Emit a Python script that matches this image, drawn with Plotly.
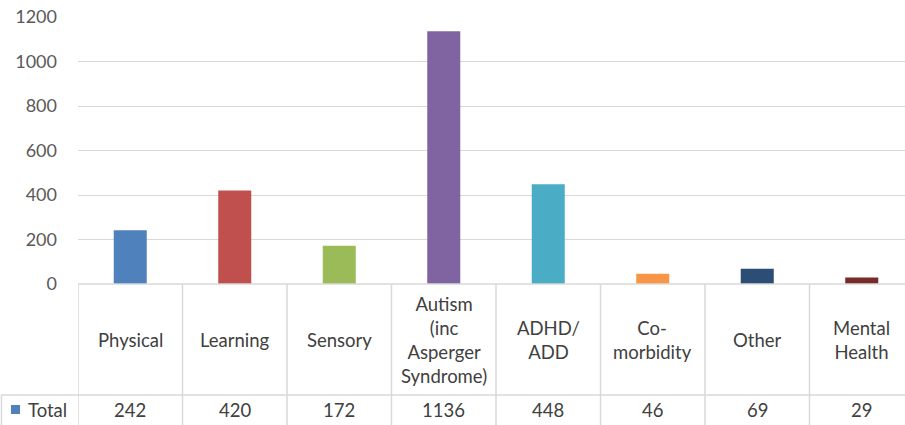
import plotly.graph_objects as go

categories = ["Physical", "Learning", "Sensory", "Autism (inc Asperger Syndrome)",
              "ADHD/ ADD", "Co-morbidity", "Other", "Mental Health"]
header_labels = ["Physical", "Learning", "Sensory", "Autism<br>(inc<br>Asperger<br>Syndrome)",
                 "ADHD/<br>ADD", "Co-<br>morbidity", "Other", "Mental<br>Health"]
values = [242, 420, 172, 1136, 448, 46, 69, 29]
colors = ["#4F81BD", "#C0504D", "#9BBB59", "#8064A2", "#4BACC6", "#F79646", "#2C4D75", "#772C2A"]
series_name = "Total"
y_ticks = [0, 200, 400, 600, 800, 1000, 1200]

W, H = 905, 425
ml, mt, mb = 78, 17, 141
pw = W - ml
ph = H - mt - mb
cat_w = 104.5
xr = [-0.5, -0.5 + pw / cat_w]

FONT = "Lato"
TS = 18.5
fig = go.Figure()
fig.add_trace(go.Bar(x=list(range(len(values))), y=values, marker=dict(color=colors, line=dict(width=0)),
                     width=0.316, name=series_name, showlegend=False, hoverinfo="y"))

grid = "#D9D9D9"
fig.update_layout(
    width=W, height=H, margin=dict(l=ml, r=0, t=mt, b=mb),
    paper_bgcolor="white", plot_bgcolor="white",
    xaxis=dict(range=xr, showticklabels=False, showgrid=False, zeroline=False, showline=False, fixedrange=True),
    yaxis=dict(range=[0, 1200], tickvals=y_ticks, showgrid=True, gridcolor=grid, gridwidth=1.3,
               zeroline=False, showline=False, ticks="", ticklabelstandoff=20, fixedrange=True,
               tickfont=dict(family=FONT, size=18, color="#595959")),
    font=dict(family=FONT, color="#404040"),
)

def py(pix):
    return (H - mb - pix) / ph

def px(pix):
    return (pix - ml) / pw

row_split = 395
shapes = []
shapes.append(dict(type="line", xref="paper", yref="paper", x0=0, x1=1, y0=0, y1=0,
                   line=dict(color=grid, width=1.5)))
shapes.append(dict(type="line", xref="paper", yref="paper", x0=px(1), x1=1, y0=py(row_split), y1=py(row_split),
                   line=dict(color=grid, width=1.5)))
for i in range(len(values) + 1):
    shapes.append(dict(type="line", xref="x", yref="paper", x0=i - 0.5, x1=i - 0.5, y0=0, y1=py(H + 2),
                       line=dict(color=grid, width=1.5)))
shapes.append(dict(type="line", xref="paper", yref="paper", x0=px(1.5), x1=px(1.5), y0=py(row_split), y1=py(H + 2),
                   line=dict(color=grid, width=1.5)))
shapes.append(dict(type="rect", xref="paper", yref="paper", x0=px(11), x1=px(20), y0=py(414), y1=py(405),
                   fillcolor=colors[0], line=dict(width=0)))

annotations = []
for i, lab in enumerate(header_labels):
    annotations.append(dict(x=i, y=py(339.5), xref="x", yref="paper", text=lab, showarrow=False,
                            font=dict(family=FONT, size=TS, color="#404040"), align="center",
                            xanchor="center", yanchor="middle"))
    annotations.append(dict(x=i, y=py(410), xref="x", yref="paper", text=str(values[i]), showarrow=False,
                            font=dict(family=FONT, size=TS, color="#404040"), xanchor="center", yanchor="middle"))
annotations.append(dict(x=px(26), y=py(410), xref="paper", yref="paper", text=series_name, showarrow=False,
                        font=dict(family=FONT, size=TS, color="#404040"), xanchor="left", yanchor="middle"))

fig.update_layout(shapes=shapes, annotations=annotations)
fig.write_html("out.html", config={"displayModeBar": False},
               post_script="document.body.style.margin='0';document.body.style.overflow='hidden';")
